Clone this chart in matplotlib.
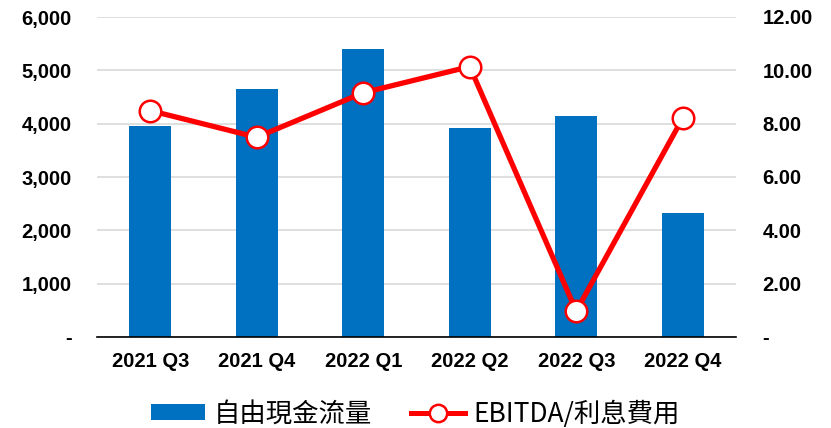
import matplotlib
matplotlib.use("Agg")
import matplotlib.pyplot as plt
from matplotlib.ticker import FuncFormatter

categories = ["2021 Q3", "2021 Q4", "2022 Q1", "2022 Q2", "2022 Q3", "2022 Q4"]
fcf = [3950, 4650, 5400, 3920, 4145, 2325]
ebitda_ratio = [8.49, 7.49, 9.16, 10.14, 0.97, 8.21]

left_ticks = [0, 1000, 2000, 3000, 4000, 5000, 6000]
right_ticks = [0, 2, 4, 6, 8, 10, 12]

fig = plt.figure(figsize=(8.31, 4.28), dpi=100)
ax = fig.add_axes([97/831, 1-337/428, (736-97)/831, (337-17)/428])
ax2 = ax.twinx()

x = list(range(len(categories)))
bars = ax.bar(x, fcf, width=0.39, color="#0070C0", zorder=2, label="自由現金流量")
ax.set_ylim(0, 6000)
ax.set_xlim(-0.5, len(categories) - 0.5)
ax.set_yticks(left_ticks)
ax.yaxis.set_major_formatter(FuncFormatter(lambda v, p: "-" if v == 0 else f"{int(v):,}"))
ax.grid(axis="y", color="#D9D9D9", linewidth=1.2, zorder=0)
ax.set_axisbelow(True)
ax.set_xticks(x)
ax.set_xticklabels(categories)

line, = ax2.plot(x, ebitda_ratio, color="#FF0000", linewidth=3.8, marker="o",
                 markersize=15.5, markerfacecolor="white", markeredgecolor="#FF0000",
                 markeredgewidth=1.8, zorder=3, label="EBITDA/利息費用")
ax2.set_ylim(0, 12)
ax2.set_yticks(right_ticks)
ax2.yaxis.set_major_formatter(FuncFormatter(lambda v, p: "-" if v == 0 else f"{v:.2f}"))

for a in (ax, ax2):
    for s in ["top", "left", "right"]:
        a.spines[s].set_visible(False)
    a.tick_params(length=0)
ax2.spines["bottom"].set_visible(False)
ax.spines["bottom"].set_color("black")
ax.spines["bottom"].set_linewidth(1.2)

for lab in ax.get_yticklabels() + ax.get_xticklabels() + ax2.get_yticklabels():
    lab.set_fontfamily("Liberation Sans")
    lab.set_fontweight("bold")
    lab.set_fontsize(14.5)
ax.tick_params(axis="y", pad=18)
ax2.tick_params(axis="y", pad=19)
ax.tick_params(axis="x", pad=11)

leg = fig.legend([bars, line], ["自由現金流量", "EBITDA/利息費用"], loc="center",
                 bbox_to_anchor=(0.5, 1-414/428), ncol=2, frameon=False,
                 prop=dict(family=["Noto Sans CJK TC", "DejaVu Sans"], size=19),
                 handlelength=2.05, handleheight=0.57, columnspacing=1.5, handletextpad=0.3)
leg.legend_handles[1].set_markersize(12.5)
leg.legend_handles[1].set_linewidth(3.6)

fig.savefig("out.png", dpi=100)
